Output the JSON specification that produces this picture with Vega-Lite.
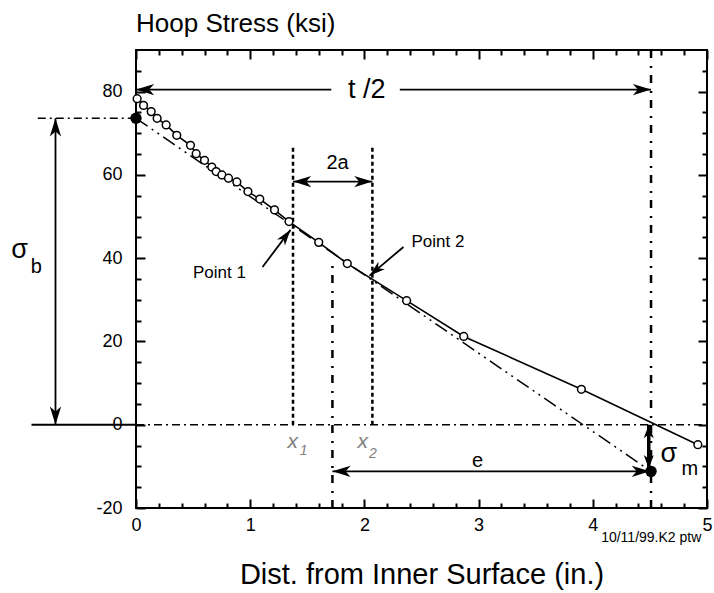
{
  "$schema": "https://vega.github.io/schema/vega-lite/v6.json",
  "autosize": "none",
  "padding": {"left": 136, "top": 50, "right": 7, "bottom": 85},
  "width": 571,
  "height": 458,
  "title": {"text": "Hoop Stress (ksi)", "anchor": "start", "frame": "group", "fontSize": 26, "fontWeight": "normal", "font": "Liberation Sans", "color": "black", "baseline": "alphabetic", "offset": -9},
  "datasets": {
    "stress": [
      {"x": 0.01, "y": 78.3}, {"x": 0.066, "y": 76.7}, {"x": 0.133, "y": 75.2}, {"x": 0.185, "y": 73.6},
      {"x": 0.264, "y": 72.0}, {"x": 0.357, "y": 69.5}, {"x": 0.477, "y": 67.1}, {"x": 0.527, "y": 65.1},
      {"x": 0.6, "y": 63.5}, {"x": 0.664, "y": 61.9}, {"x": 0.702, "y": 60.8}, {"x": 0.752, "y": 60.0},
      {"x": 0.81, "y": 59.2}, {"x": 0.883, "y": 58.3}, {"x": 0.98, "y": 56.0}, {"x": 1.084, "y": 54.2},
      {"x": 1.213, "y": 51.6}, {"x": 1.34, "y": 48.8}, {"x": 1.6, "y": 43.8}, {"x": 1.85, "y": 38.7},
      {"x": 2.37, "y": 29.8}, {"x": 2.87, "y": 21.2}, {"x": 3.9, "y": 8.5}, {"x": 4.92, "y": -4.8}
    ],
    "fit": [{"x": 0, "y": 73.6}, {"x": 4.51, "y": -11.2}],
    "hdd": [{"x": 0, "x2": 5, "y": 0}, {"x": -0.86, "x2": 0, "y": 73.6}],
    "vdd": [{"x": 4.51, "y": -20, "y2": 90}, {"x": 1.72, "y": -20, "y2": 40}],
    "dotted": [{"x": 1.375, "y": 0, "y2": 67}, {"x": 2.07, "y": 0, "y2": 67}],
    "shafts": [
      {"x": 0, "y": 80.5, "x2": 1.71, "y2": 80.5},
      {"x": 2.31, "y": 80.5, "x2": 4.51, "y2": 80.5},
      {"x": -0.705, "y": 0, "x2": -0.705, "y2": 73.6},
      {"x": 1.375, "y": 58.4, "x2": 2.07, "y2": 58.4},
      {"x": 1.72, "y": -11.2, "x2": 4.5, "y2": -11.2},
      {"x": 1.108, "y": 37.9, "x2": 1.353, "y2": 46.8},
      {"x": 2.342, "y": 42.7, "x2": 2.045, "y2": 35.8},
      {"x": -0.915, "y": 0, "x2": 0, "y2": 0}
    ],
    "shaftm": [{"x": 4.49, "y": 0, "x2": 4.49, "y2": -10.5}],
    "headR": [{"x": 4.51, "y": 80.5}, {"x": 2.07, "y": 58.4}, {"x": 4.5, "y": -11.2}],
    "headL": [{"x": 0, "y": 80.5}, {"x": 1.375, "y": 58.4}, {"x": 1.72, "y": -11.2}],
    "headU": [{"x": -0.705, "y": 73.6}],
    "headD": [{"x": -0.705, "y": 0}],
    "headMU": [{"x": 4.49, "y": 0}],
    "headMD": [{"x": 4.49, "y": -10.5}],
    "headP1": [{"x": 1.353, "y": 46.8}],
    "headP2": [{"x": 2.045, "y": 35.8}],
    "bigText": [{"x": 2.02, "y": 80.5, "text": "t /2"}],
    "sigma": [{"x": -1.02, "y": 42.0, "text": "σ"}, {"x": 4.666, "y": -7.0, "text": "σ"}],
    "subs": [{"x": -0.874, "y": 38.0, "text": "b"}, {"x": 4.85, "y": -10.7, "text": "m"}],
    "medText": [{"x": 1.765, "y": 62.8, "text": "2a"}, {"x": 2.99, "y": -8.8, "text": "e"}],
    "points": [{"x": 0.731, "y": 36.5, "text": "Point 1"}, {"x": 2.644, "y": 44.0, "text": "Point 2"}],
    "xlab": [{"x": 1.373, "y": -4.2, "text": "x"}, {"x": 1.986, "y": -4.2, "text": "x"}],
    "xsub": [{"x": 1.467, "y": -6.4, "text": "1"}, {"x": 2.074, "y": -7.0, "text": "2"}],
    "footer": [{"x": 4.95, "y": -27.3, "text": "10/11/99.K2 ptw"}]
  },
  "resolve": {"axis": {"x": "independent", "y": "independent"}},
  "layer": [
    {
      "data": {"name": "hdd"},
      "mark": {"type": "rule", "color": "black", "strokeWidth": 1.5, "strokeDash": [8, 4, 2, 4]},
      "encoding": {
        "x": {"field": "x", "type": "quantitative", "scale": {"domain": [0, 5], "nice": false, "zero": false},
          "axis": {"orient": "bottom", "values": [0, 1, 2, 3, 4, 5], "tickSize": -9, "labelPadding": 17, "labelFlush": false, "labelExpr": "'' + datum.value", "title": "Dist. from Inner Surface (in.)", "titleFontSize": 29, "titlePadding": 26}},
        "x2": {"field": "x2"},
        "y": {"field": "y", "type": "quantitative", "scale": {"domain": [-20, 90], "nice": false, "zero": false},
          "axis": {"orient": "left", "values": [-20, 0, 20, 40, 60, 80], "tickSize": -9, "labelPadding": 23, "labelExpr": "'' + datum.value", "title": null}}
      }
    },
    {
      "data": {"name": "vdd"},
      "mark": {"type": "rule", "color": "black", "strokeWidth": 2.5, "strokeDash": [8, 7, 2, 8]},
      "encoding": {
        "x": {"field": "x", "type": "quantitative",
          "axis": {"orient": "bottom", "values": [0.2, 0.4, 0.6, 0.8, 1.2, 1.4, 1.6, 1.8, 2.2, 2.4, 2.6, 2.8, 3.2, 3.4, 3.6, 3.8, 4.2, 4.4, 4.6, 4.8], "tickSize": -5, "labels": false, "title": null}},
        "y": {"field": "y", "type": "quantitative",
          "axis": {"orient": "left", "values": [-15, -10, -5, 5, 10, 15, 25, 30, 35, 45, 50, 55, 65, 70, 75, 85], "tickSize": -5, "labels": false, "title": null}},
        "y2": {"field": "y2"}
      }
    },
    {
      "data": {"name": "dotted"},
      "mark": {"type": "rule", "color": "black", "strokeWidth": 2.5, "strokeDash": [4, 3]},
      "encoding": {
        "x": {"field": "x", "type": "quantitative",
          "axis": {"orient": "top", "values": [0, 1, 2, 3, 4, 5], "tickSize": -9, "labels": false, "title": null}},
        "y": {"field": "y", "type": "quantitative",
          "axis": {"orient": "right", "values": [-20, 0, 20, 40, 60, 80], "tickSize": -9, "labels": false, "title": null}},
        "y2": {"field": "y2"}
      }
    },
    {
      "data": {"name": "fit"},
      "mark": {"type": "line", "color": "black", "strokeWidth": 1.5, "strokeDash": [14, 5, 2, 5, 2, 5]},
      "encoding": {
        "x": {"field": "x", "type": "quantitative",
          "axis": {"orient": "top", "values": [0.2, 0.4, 0.6, 0.8, 1.2, 1.4, 1.6, 1.8, 2.2, 2.4, 2.6, 2.8, 3.2, 3.4, 3.6, 3.8, 4.2, 4.4, 4.6, 4.8], "tickSize": -5, "labels": false, "title": null}},
        "y": {"field": "y", "type": "quantitative",
          "axis": {"orient": "right", "values": [-15, -10, -5, 5, 10, 15, 25, 30, 35, 45, 50, 55, 65, 70, 75, 85], "tickSize": -5, "labels": false, "title": null}}
      }
    },
    {
      "data": {"name": "shafts"},
      "mark": {"type": "rule", "color": "black", "strokeWidth": 1.8},
      "encoding": {
        "x": {"field": "x", "type": "quantitative", "axis": null},
        "x2": {"field": "x2"},
        "y": {"field": "y", "type": "quantitative", "axis": null},
        "y2": {"field": "y2"}
      }
    },
    {
      "data": {"name": "shaftm"},
      "mark": {"type": "rule", "color": "black", "strokeWidth": 3.5},
      "encoding": {
        "x": {"field": "x", "type": "quantitative", "axis": null},
        "x2": {"field": "x2"},
        "y": {"field": "y", "type": "quantitative", "axis": null},
        "y2": {"field": "y2"}
      }
    },
    {
      "data": {"name": "headR"},
      "mark": {"type": "point", "shape": "M0,0 L-2,-0.62 L-1.45,0 L-2,0.62 Z", "filled": true, "color": "black", "opacity": 1, "size": 330, "angle": 0},
      "encoding": {"x": {"field": "x", "type": "quantitative", "axis": null}, "y": {"field": "y", "type": "quantitative", "axis": null}}
    },
    {
      "data": {"name": "headL"},
      "mark": {"type": "point", "shape": "M0,0 L-2,-0.62 L-1.45,0 L-2,0.62 Z", "filled": true, "color": "black", "opacity": 1, "size": 330, "angle": 180},
      "encoding": {"x": {"field": "x", "type": "quantitative", "axis": null}, "y": {"field": "y", "type": "quantitative", "axis": null}}
    },
    {
      "data": {"name": "headU"},
      "mark": {"type": "point", "shape": "M0,0 L-2,-0.62 L-1.45,0 L-2,0.62 Z", "filled": true, "color": "black", "opacity": 1, "size": 330, "angle": 270},
      "encoding": {"x": {"field": "x", "type": "quantitative", "axis": null}, "y": {"field": "y", "type": "quantitative", "axis": null}}
    },
    {
      "data": {"name": "headD"},
      "mark": {"type": "point", "shape": "M0,0 L-2,-0.62 L-1.45,0 L-2,0.62 Z", "filled": true, "color": "black", "opacity": 1, "size": 330, "angle": 90},
      "encoding": {"x": {"field": "x", "type": "quantitative", "axis": null}, "y": {"field": "y", "type": "quantitative", "axis": null}}
    },
    {
      "data": {"name": "headMU"},
      "mark": {"type": "point", "shape": "M0,0 L-2,-0.75 L-1.45,0 L-2,0.75 Z", "filled": true, "color": "black", "opacity": 1, "size": 180, "angle": 270},
      "encoding": {"x": {"field": "x", "type": "quantitative", "axis": null}, "y": {"field": "y", "type": "quantitative", "axis": null}}
    },
    {
      "data": {"name": "headMD"},
      "mark": {"type": "point", "shape": "M0,0 L-2,-0.75 L-1.45,0 L-2,0.75 Z", "filled": true, "color": "black", "opacity": 1, "size": 180, "angle": 90},
      "encoding": {"x": {"field": "x", "type": "quantitative", "axis": null}, "y": {"field": "y", "type": "quantitative", "axis": null}}
    },
    {
      "data": {"name": "headP1"},
      "mark": {"type": "point", "shape": "M0,0 L-2,-0.62 L-1.45,0 L-2,0.62 Z", "filled": true, "color": "black", "opacity": 1, "size": 250, "angle": -53},
      "encoding": {"x": {"field": "x", "type": "quantitative", "axis": null}, "y": {"field": "y", "type": "quantitative", "axis": null}}
    },
    {
      "data": {"name": "headP2"},
      "mark": {"type": "point", "shape": "M0,0 L-2,-0.62 L-1.45,0 L-2,0.62 Z", "filled": true, "color": "black", "opacity": 1, "size": 250, "angle": 139.5},
      "encoding": {"x": {"field": "x", "type": "quantitative", "axis": null}, "y": {"field": "y", "type": "quantitative", "axis": null}}
    },
    {
      "data": {"name": "stress"},
      "mark": {"type": "line", "color": "black", "strokeWidth": 1.6},
      "encoding": {"x": {"field": "x", "type": "quantitative", "axis": null}, "y": {"field": "y", "type": "quantitative", "axis": null}}
    },
    {
      "data": {"name": "stress"},
      "mark": {"type": "point", "shape": "circle", "filled": true, "fill": "white", "stroke": "black", "strokeWidth": 1.5, "opacity": 1, "size": 60},
      "encoding": {"x": {"field": "x", "type": "quantitative", "axis": null}, "y": {"field": "y", "type": "quantitative", "axis": null}}
    },
    {
      "data": {"name": "fit"},
      "mark": {"type": "point", "shape": "circle", "filled": true, "color": "black", "opacity": 1, "size": 130},
      "encoding": {"x": {"field": "x", "type": "quantitative", "axis": null}, "y": {"field": "y", "type": "quantitative", "axis": null}}
    },
    {
      "data": {"name": "bigText"},
      "mark": {"type": "text", "font": "Liberation Sans", "fontSize": 27, "align": "center", "baseline": "middle", "color": "black"},
      "encoding": {"x": {"field": "x", "type": "quantitative", "axis": null}, "y": {"field": "y", "type": "quantitative", "axis": null}, "text": {"field": "text"}}
    },
    {
      "data": {"name": "sigma"},
      "mark": {"type": "text", "font": "Liberation Sans", "fontSize": 27, "align": "center", "baseline": "middle", "color": "black"},
      "encoding": {"x": {"field": "x", "type": "quantitative", "axis": null}, "y": {"field": "y", "type": "quantitative", "axis": null}, "text": {"field": "text"}}
    },
    {
      "data": {"name": "subs"},
      "mark": {"type": "text", "font": "Liberation Sans", "fontSize": 20, "align": "center", "baseline": "middle", "color": "black"},
      "encoding": {"x": {"field": "x", "type": "quantitative", "axis": null}, "y": {"field": "y", "type": "quantitative", "axis": null}, "text": {"field": "text"}}
    },
    {
      "data": {"name": "medText"},
      "mark": {"type": "text", "font": "Liberation Sans", "fontSize": 20, "align": "center", "baseline": "middle", "color": "black"},
      "encoding": {"x": {"field": "x", "type": "quantitative", "axis": null}, "y": {"field": "y", "type": "quantitative", "axis": null}, "text": {"field": "text"}}
    },
    {
      "data": {"name": "points"},
      "mark": {"type": "text", "font": "Liberation Sans", "fontSize": 17, "align": "center", "baseline": "middle", "color": "black"},
      "encoding": {"x": {"field": "x", "type": "quantitative", "axis": null}, "y": {"field": "y", "type": "quantitative", "axis": null}, "text": {"field": "text"}}
    },
    {
      "data": {"name": "xlab"},
      "mark": {"type": "text", "font": "Liberation Sans", "fontSize": 21, "fontStyle": "italic", "align": "center", "baseline": "middle", "color": "#808080"},
      "encoding": {"x": {"field": "x", "type": "quantitative", "axis": null}, "y": {"field": "y", "type": "quantitative", "axis": null}, "text": {"field": "text"}}
    },
    {
      "data": {"name": "xsub"},
      "mark": {"type": "text", "font": "Liberation Sans", "fontSize": 14, "fontStyle": "italic", "align": "center", "baseline": "middle", "color": "#808080"},
      "encoding": {"x": {"field": "x", "type": "quantitative", "axis": null}, "y": {"field": "y", "type": "quantitative", "axis": null}, "text": {"field": "text"}}
    },
    {
      "data": {"name": "footer"},
      "mark": {"type": "text", "font": "Liberation Sans", "fontSize": 14, "align": "right", "baseline": "middle", "color": "black"},
      "encoding": {"x": {"field": "x", "type": "quantitative", "axis": null}, "y": {"field": "y", "type": "quantitative", "axis": null}, "text": {"field": "text"}}
    }
  ],
  "config": {
    "view": {"stroke": "black", "strokeWidth": 2},
    "axis": {"domain": false, "grid": false, "tickColor": "black", "tickWidth": 2, "labelColor": "black", "labelFont": "Liberation Sans", "labelFontSize": 18, "titleFont": "Liberation Sans", "titleFontWeight": "normal", "titleColor": "black"}
  }
}
